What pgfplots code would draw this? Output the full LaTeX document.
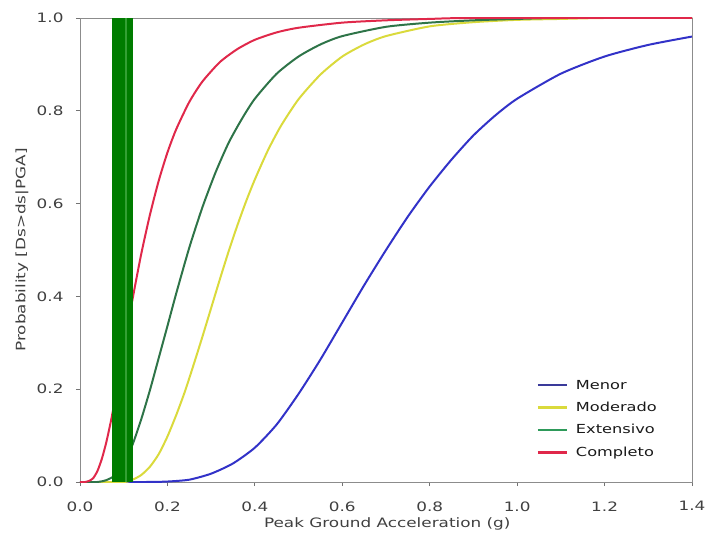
\documentclass[border=0pt]{standalone}
\usepackage{pgfplots}
\pgfplotsset{compat=1.18}
\usepackage{fontspec}
\setmainfont{DejaVu Sans}[FakeStretch=1.3]
\definecolor{cblue}{HTML}{3232C8}
\definecolor{cyellow}{HTML}{DADA3C}
\definecolor{cgreen}{HTML}{2E7448}
\definecolor{cred}{HTML}{E0284A}
\definecolor{lblue}{HTML}{3A3A9A}
\definecolor{lgreen}{HTML}{2E9A5A}
\definecolor{bandgreen}{HTML}{007C00}
\definecolor{bandlight}{HTML}{34A034}
\begin{document}
\begin{tikzpicture}
\begin{axis}[
  scale only axis, width=612bp, height=464bp,
  xmin=0, xmax=1.4, ymin=0, ymax=1,
  xtick={0,0.2,0.4,0.6,0.8,1.0,1.2,1.4},
  ytick={0,0.2,0.4,0.6,0.8,1.0},
  /pgf/number format/assume math mode=true,
  /pgf/number format/fixed,
  /pgf/number format/fixed zerofill,
  /pgf/number format/precision=1,
  tick align=outside, major tick length=4bp,
  xtick pos=bottom, ytick pos=left,
  tick style={black!55, line width=0.8pt},
  axis line style={black!45, line width=0.8pt},
  font=\fontsize{13}{15}\selectfont,
  ticklabel style={text=black!75},
  xticklabel style={yshift=-12bp},
  yticklabel style={xshift=-9bp},
  xlabel={Peak Ground Acceleration (g)},
  ylabel={Probability [Ds>ds|PGA]},
  label style={text=black!75},
  xlabel style={at={(axis description cs:0.502,-0.090)}, anchor=center},
  ylabel style={at={(axis description cs:-0.095,0.5)}, anchor=center},
  legend style={at={(0.951,0.043)}, anchor=south east, draw=none, fill=white,
    font=\fontsize{12.5}{14}\selectfont, row sep=7.5bp, text=black!90,
    /tikz/every odd column/.append style={column sep=6bp}},
  legend cell align=left,
  legend image code/.code={\draw[#1, line width=2.4pt] (0bp,0bp) -- (29bp,0bp);},
]
\addplot[cblue, line width=2pt, smooth, tension=0.4, legend image post style={lblue}] coordinates {
(0,0)(0.15,0)(0.20,0.001)(0.25,0.005)(0.30,0.018)(0.35,0.040)(0.40,0.074)(0.45,0.124)
(0.50,0.190)(0.55,0.264)(0.60,0.344)(0.65,0.424)(0.70,0.500)(0.75,0.572)(0.80,0.637)
(0.85,0.695)(0.90,0.747)(0.95,0.790)(1.00,0.826)(1.10,0.880)(1.20,0.917)(1.30,0.942)(1.40,0.960)};
\addlegendentry{Menor}
\addplot[cyellow, line width=2pt, smooth, tension=0.4] coordinates {
(0,0)(0.10,0)(0.12,0.005)(0.14,0.015)(0.16,0.033)(0.18,0.060)(0.20,0.098)(0.22,0.144)
(0.24,0.195)(0.26,0.253)(0.28,0.313)(0.30,0.375)(0.32,0.437)(0.34,0.497)(0.36,0.553)
(0.38,0.605)(0.40,0.652)(0.43,0.715)(0.46,0.768)(0.50,0.825)(0.55,0.878)(0.60,0.917)
(0.65,0.943)(0.70,0.961)(0.80,0.982)(0.90,0.991)(1.00,0.996)(1.10,0.998)(1.20,1.0)(1.4,1.0)};
\addlegendentry{Moderado}
\addplot[cgreen, line width=2pt, smooth, tension=0.4, legend image post style={lgreen}] coordinates {
(0,0)(0.04,0)(0.06,0.004)(0.08,0.014)(0.10,0.038)(0.12,0.080)(0.14,0.135)(0.16,0.198)
(0.18,0.267)(0.20,0.336)(0.22,0.406)(0.25,0.505)(0.28,0.592)(0.31,0.667)(0.34,0.731)
(0.37,0.782)(0.40,0.826)(0.45,0.880)(0.50,0.917)(0.55,0.943)(0.60,0.961)(0.70,0.981)
(0.80,0.990)(0.90,0.995)(1.00,0.998)(1.10,1.0)(1.4,1.0)};
\addlegendentry{Extensivo}
\addplot[cred, line width=2pt, smooth, tension=0.4] coordinates {
(0,0)(0.012,0)(0.02,0.002)(0.03,0.008)(0.04,0.024)(0.05,0.050)(0.06,0.085)(0.07,0.128)
(0.08,0.177)(0.10,0.286)(0.12,0.393)(0.14,0.491)(0.16,0.576)(0.18,0.649)(0.20,0.710)
(0.22,0.760)(0.25,0.819)(0.28,0.863)(0.32,0.905)(0.36,0.933)(0.40,0.953)(0.45,0.969)
(0.50,0.979)(0.60,0.990)(0.70,0.995)(0.80,0.998)(0.90,1.0)(1.4,1.0)};
\addlegendentry{Completo}
\addplot[forget plot, draw=none, fill=bandgreen] coordinates {(0.073,1)(0.121,1)} \closedcycle;
\addplot[forget plot, draw=none, fill=bandlight] coordinates {(0.103,1)(0.108,1)} \closedcycle;
\end{axis}
\useasboundingbox ([xshift=-80bp,yshift=-53bp]current axis.south west) rectangle ([xshift=17bp,yshift=18bp]current axis.north east);
\end{tikzpicture}
\end{document}
